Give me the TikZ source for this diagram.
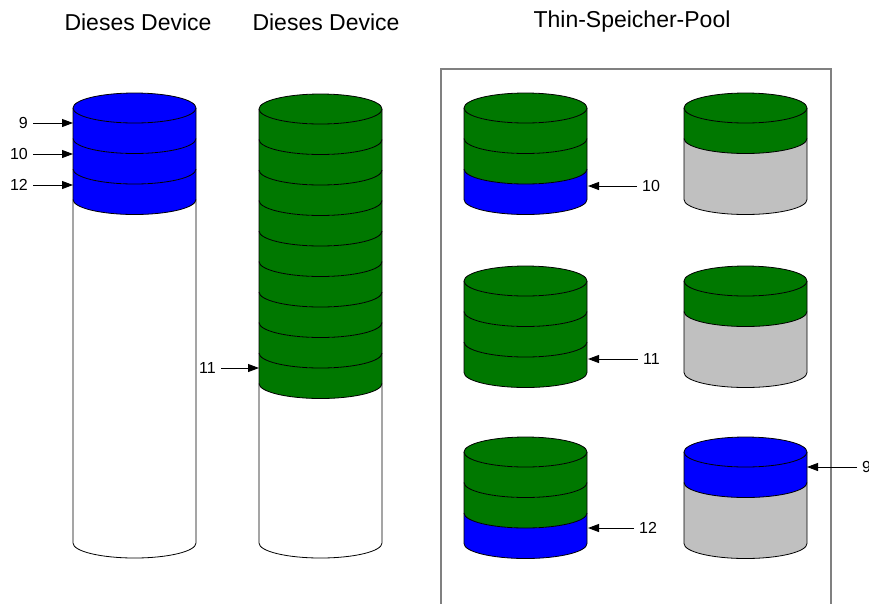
\documentclass[tikz,border=0pt]{standalone}
\usepackage{fontspec}
\setmainfont{Liberation Sans}
\usepackage{tikz}
\usetikzlibrary{positioning}
\usetikzlibrary{arrows.meta}

\definecolor{lunblue}{RGB}{0,0,255}
\definecolor{lungreen}{RGB}{0,120,0}
\definecolor{poolgray}{RGB}{192,192,192}

% the filled body of a volume, from y = #2 down to y = #3
\newcommand{\volbody}[4]{%
  \fill[#4] ({#1-\rx},{#2}) -- ({#1-\rx},{#3})
    arc[start angle=180, end angle=360, x radius=\rx, y radius=\ry]
    -- ({#1+\rx},{#2}) -- cycle;}

% one slice of a volume, its side starts at y = #2
\newcommand{\volslice}[3]{%
  \fill[#3] ({#1-\rx},{#2})
    arc[start angle=180, end angle=360, x radius=\rx, y radius=\ry]
    -- ++(0,-\bh)
    arc[start angle=0, end angle=-180, x radius=\rx, y radius=\ry] -- cycle;}

% the seam below a slice
\newcommand{\volseam}[2]{%
  \draw[disk] ({#1-\rx},{#2})
    arc[start angle=180, end angle=360, x radius=\rx, y radius=\ry];}

% sides and bottom of a volume
\newcommand{\voledge}[3]{%
  \draw[disk] ({#1-\rx},{#2}) -- ({#1-\rx},{#3})
    arc[start angle=180, end angle=360, x radius=\rx, y radius=\ry]
    -- ({#1+\rx},{#2});}

% the lid on top of a volume
\newcommand{\vollid}[3]{%
  \draw[disk, fill=#3] (#1,{#2}) ellipse[x radius=\rx, y radius=\ry];}

\begin{document}
\begin{tikzpicture}[x=1pt, y=1pt,
    disk/.style={draw=black, line width=0.8pt},
    title/.style={font=\fontsize{23}{27}\selectfont},
    num/.style={font=\fontsize{16}{19}\selectfont, inner sep=1pt},
    pointer/.style={-{Triangle[length=11pt, width=8pt]}, line width=0.9pt,
      shorten <=4pt}]

    \def\rx{61.5}
    \def\ry{15}
    \def\bh{30.5}

    \useasboundingbox (0,0) rectangle (869,-603);

    % headings
    \node[title] (h1) at (138,-22) {Dieses Device};
    \node[title] (h2) at (326,-22) {Dieses Device};
    \node[title] (h3) at (632,-22) {Thin-Speicher-Pool};

    % the pool
    \draw[gray, line width=1.2pt] (441,-69) rectangle (831,-640);

    % the two thin devices
    \volbody{134.5}{-108}{-543}{white}
    \foreach \i in {0,1,2}
        \volslice{134.5}{-108-\i*\bh}{lunblue};
    \foreach \i in {1,2,3}
        \volseam{134.5}{-108-\i*\bh};
    \voledge{134.5}{-108}{-543}
    \vollid{134.5}{-108}{lunblue}

    \volbody{320.5}{-109}{-543}{white}
    \foreach \i in {0,...,8}
        \volslice{320.5}{-109-\i*\bh}{lungreen};
    \foreach \i in {1,...,9}
        \volseam{320.5}{-109-\i*\bh};
    \voledge{320.5}{-109}{-543}
    \vollid{320.5}{-109}{lungreen}

    % the disks in the pool
    \foreach \x/\y/\c in {525.5/-108/lunblue, 525.5/-281/lungreen,
        525.5/-452/lunblue}
    {
        \volslice{\x}{\y}{lungreen}
        \volslice{\x}{\y-\bh}{lungreen}
        \volslice{\x}{\y-2*\bh}{\c}
        \volseam{\x}{\y-\bh}
        \volseam{\x}{\y-2*\bh}
        \voledge{\x}{\y}{\y-3*\bh}
        \vollid{\x}{\y}{lungreen}
    }
    \foreach \x/\y/\c in {745.5/-108/lungreen, 745.5/-281/lungreen,
        745.5/-452/lunblue}
    {
        \volbody{\x}{\y}{\y-3*\bh}{poolgray}
        \volslice{\x}{\y}{\c}
        \volseam{\x}{\y-\bh}
        \voledge{\x}{\y}{\y-3*\bh}
        \vollid{\x}{\y}{\c}
    }

    % extents
    \coordinate (a9) at (73,-123);
    \coordinate (a10) at (73,-154);
    \coordinate (a12) at (73,-185);
    \coordinate (b11) at (259,-368);
    \coordinate (p10) at (588,-186);
    \coordinate (p11) at (588,-359);
    \coordinate (p12) at (588,-528);
    \coordinate (p9) at (807,-467);

    \node[num, left=44pt of a9] (na9) {9};
    \node[num, left=44pt of a10] (na10) {10};
    \node[num, left=44pt of a12] (na12) {12};
    \node[num, left=42pt of b11] (nb11) {11};
    \node[num, right=53pt of p10] (np10) {10};
    \node[num, right=54pt of p11] (np11) {11};
    \node[num, right=50pt of p12] (np12) {12};
    \node[num, right=54pt of p9] (np9) {9};

    \draw[pointer] (na9) -- (a9);
    \draw[pointer] (na10) -- (a10);
    \draw[pointer] (na12) -- (a12);
    \draw[pointer] (nb11) -- (b11);
    \draw[pointer] (np10) -- (p10);
    \draw[pointer] (np11) -- (p11);
    \draw[pointer] (np12) -- (p12);
    \draw[pointer] (np9) -- (p9);

\end{tikzpicture}
\end{document}
